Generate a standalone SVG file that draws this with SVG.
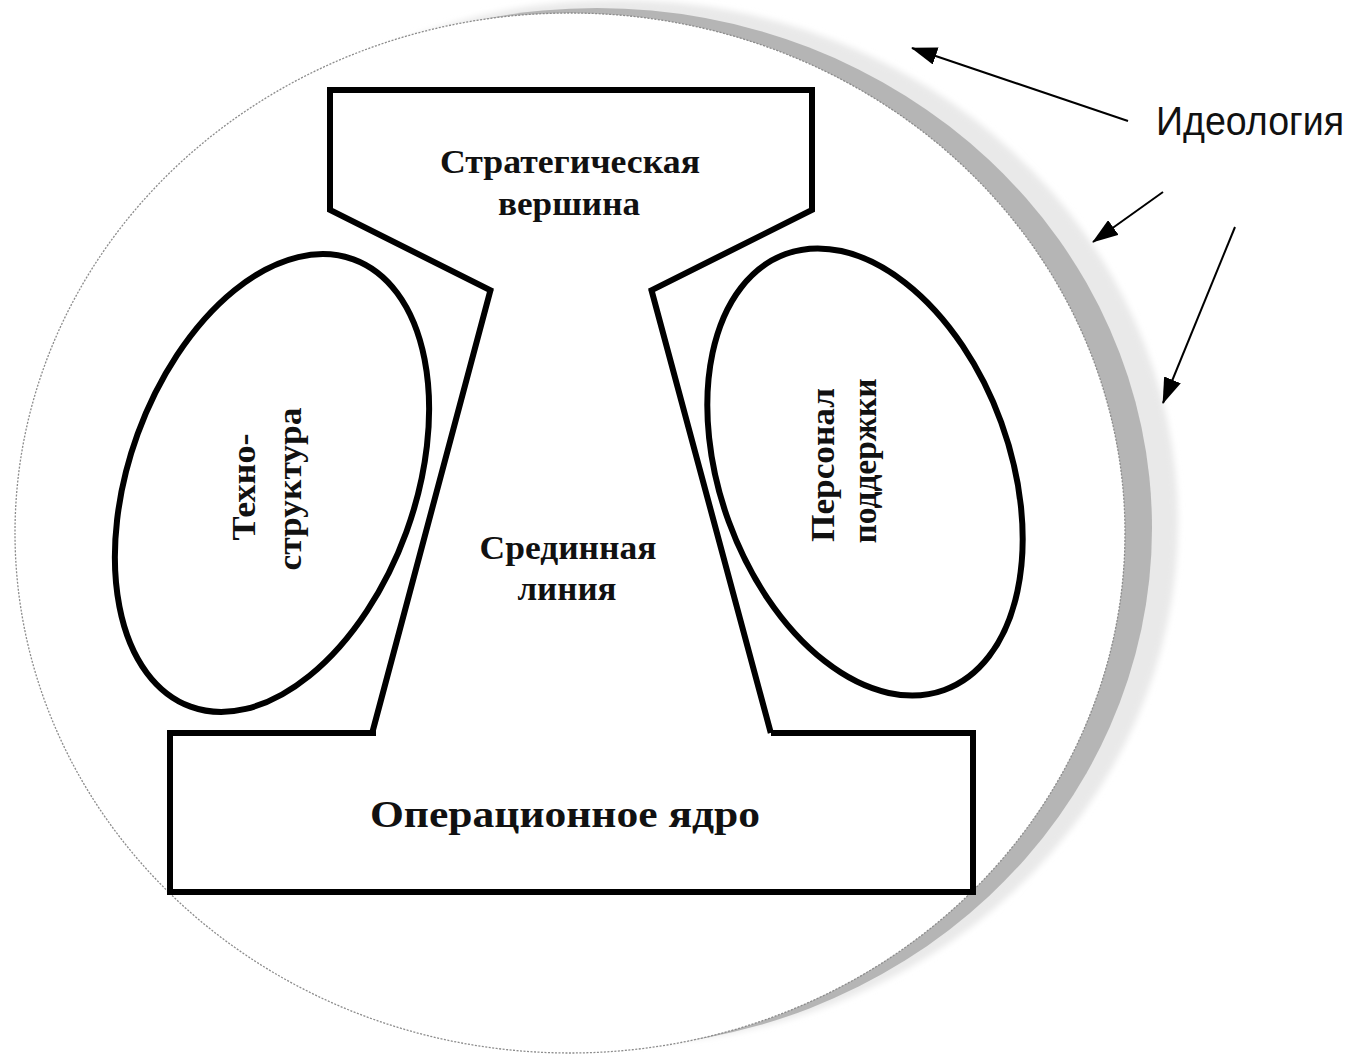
<svg xmlns="http://www.w3.org/2000/svg" width="1366" height="1059" viewBox="0 0 1366 1059">
  <style>
    .shape { fill: none; stroke: #000; stroke-width: 6; stroke-linejoin: miter; stroke-linecap: square; }
    .lbl { font-family: "Liberation Serif", "Times New Roman", serif; font-weight: bold; fill: #111; text-anchor: middle; }
    .ideo { font-family: "Liberation Sans", Arial, sans-serif; fill: #111; }
    .arrow { stroke: #000; stroke-width: 2; fill: none; }
  </style>
  <defs>
    <marker id="ah" markerUnits="userSpaceOnUse" markerWidth="26" markerHeight="18" refX="25" refY="9" orient="auto">
      <path d="M0,0 L26,9 L0,18 z" fill="#000"/>
    </marker>
    <filter id="soft" x="-10%" y="-10%" width="120%" height="120%">
      <feGaussianBlur stdDeviation="3"/>
    </filter>
  </defs>
  <rect width="1366" height="1059" fill="#fff"/>

  <g id="ideology-field">
    <ellipse cx="618" cy="522" rx="560" ry="522" fill="#e9e9e9" filter="url(#soft)"/>
    <ellipse cx="597" cy="528" rx="555" ry="520" fill="#b5b5b5"/>
    <ellipse cx="570" cy="533" rx="555" ry="520" fill="#fff" stroke="#8c8c8c" stroke-width="1.3" stroke-dasharray="2 1.5"/>
  </g>

  <g id="strategic-apex">
    <polyline class="shape" points="490,290 330,210 330,90 812,90 812,210 652,290"/>
    <text class="lbl" x="570" y="173" font-size="33" textLength="260" lengthAdjust="spacingAndGlyphs">Стратегическая</text>
    <text class="lbl" x="569" y="215" font-size="33" textLength="142" lengthAdjust="spacingAndGlyphs">вершина</text>
  </g>

  <g id="middle-line">
    <line class="shape" x1="490" y1="292" x2="373" y2="730"/>
    <line class="shape" x1="652" y1="292" x2="770" y2="730"/>
    <text class="lbl" x="568" y="559" font-size="33" textLength="177" lengthAdjust="spacingAndGlyphs">Срединная</text>
    <text class="lbl" x="567" y="600" font-size="33" textLength="99" lengthAdjust="spacingAndGlyphs">линия</text>
  </g>

  <g id="technostructure">
    <ellipse class="shape" cx="272" cy="483" rx="143" ry="238" transform="rotate(20 272 483)"/>
    <text class="lbl" font-size="33" textLength="107" lengthAdjust="spacingAndGlyphs" transform="translate(255 487) rotate(-90)">Техно-</text>
    <text class="lbl" font-size="33" textLength="163" lengthAdjust="spacingAndGlyphs" transform="translate(301 489) rotate(-90)">структура</text>
  </g>

  <g id="support-staff">
    <ellipse class="shape" cx="865" cy="472" rx="145" ry="232" transform="rotate(-20 865 472)"/>
    <text class="lbl" font-size="34" textLength="154" lengthAdjust="spacingAndGlyphs" transform="translate(834 465) rotate(-90)">Персонал</text>
    <text class="lbl" font-size="34" textLength="165" lengthAdjust="spacingAndGlyphs" transform="translate(876 461) rotate(-90)">поддержки</text>
  </g>

  <g id="operating-core">
    <polyline class="shape" points="373,733 170,733 170,892 973,892 973,733 774,733"/>
    <text class="lbl" x="565" y="827" font-size="38" textLength="390" lengthAdjust="spacingAndGlyphs">Операционное ядро</text>
  </g>

  <g id="ideology-label">
    <text class="ideo" x="1156" y="135" font-size="41" textLength="188" lengthAdjust="spacingAndGlyphs">Идеология</text>
  </g>

  <g id="connectors">
    <line class="arrow" x1="1128" y1="121" x2="912" y2="48" marker-end="url(#ah)"/>
    <line class="arrow" x1="1163" y1="192" x2="1093" y2="242" marker-end="url(#ah)"/>
    <line class="arrow" x1="1235" y1="227" x2="1163" y2="403" marker-end="url(#ah)"/>
  </g>
</svg>
